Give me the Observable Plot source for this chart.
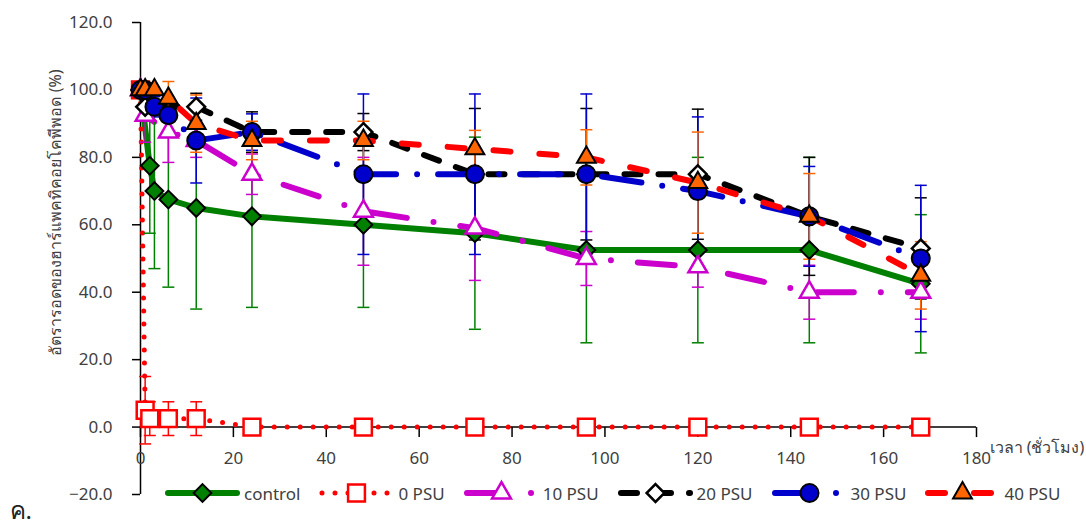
<!DOCTYPE html>
<html>
<head>
<meta charset="utf-8">
<script src="https://cdn.jsdelivr.net/npm/d3@7"></script>
<script src="https://cdn.jsdelivr.net/npm/@observablehq/plot@0.6"></script>
<style>
  html, body { margin: 0; padding: 0; background: #fff; }
  #wrap { position: relative; width: 1086px; height: 530px; font-family: "Noto Sans", "DejaVu Sans", sans-serif; }
  #legend { position: absolute; left: 165px; top: 482px; display: flex; align-items: center; height: 22px; font-size: 17px; color: #404040; }
  .item { display: flex; align-items: center; margin-right: 19px; }
  .item span { margin-left: 4px; white-space: nowrap; }
</style>
</head>
<body>
<div id="wrap"><div id="chart"></div><div id="legend"></div></div>
<script>
// ---------------- data ----------------
const hours = [0, 1, 2, 3, 6, 12, 24, 48, 72, 96, 120, 144, 168];
const seriesNames = ["control", "0 PSU", "10 PSU", "20 PSU", "30 PSU", "40 PSU"];

const controlMean = [100, null, 77.5, 70, 67.5, 65, 62.5, 60, 57.5, 52.5, 52.5, 52.5, 42.5];
const controlSD   = [0,   null, 20,   23, 26,   30, 27,   24.5, 28.5, 27.5, 27.5, 27.5, 20.5];

const psu0Mean = [100, 5,  2.5, null, 2.5, 2.5, 0, 0, 0, 0, 0, 0, 0];
const psu0SD   = [0,   10, 5,   null, 5,   5,   0, 0, 0, 0, 0, 0, 0];

const psu10Mean = [100, 92.5, null, null, 87.5, 85, 75, 64, 59,   50, 47.5, 40, 40];
const psu10SD   = [0,   8,    null, null, 9,    5,  6,  16, 15.5, 8,  6,    8,  8];

const psu20Mean = [100, 95, null, null, null, 95, 87.5, 87.5, 75,   75,   75,   62.5, 53];
const psu20SD   = [0,   3,  null, null, null, 4,  6,    5.5,  19.5, 19.5, 19.3, 17.5, 15];

const psu30Mean = [100, 100, null, 95, 92.5, 85,   87.5, 75,   75,   75,   70, 62.5, 50];
const psu30SD   = [0,   0,   null, 3,  5,    12.6, 5.4,  23.8, 23.8, 23.8, 22, 14.8, 21.7];

const psu40Mean = [100, 100, null, 100, 97.5, 90,  85,  85,  82.5, 80,  72.5, 62.5, 45];
const psu40SD   = [0,   0,   null, 0,   5,    8.5, 5.7, 5.7, 5.5,  8.2, 15,   12.7, 10];

const yTicks = [-20, 0, 20, 40, 60, 80, 100, 120];
const xTicks = [0, 20, 40, 60, 80, 100, 120, 140, 160, 180];
const yTitle = "อัตรารอดของฮาร์แพคทิคอยโคพีพอด (%)";
const xTitle = "เวลา (ชั่วโมง)";
const panelTag = "ค.";

// ---------------- styles ----------------
const styles = {
  "control": {line: "#008000", width: 6, dash: null,          symbol: "diamond2", r: 8, fill: "#008000", mstroke: "#000",    mwidth: 2,   bar: "#008000"},
  "0 PSU":   {line: "#FF0000", width: 5, dash: "0 13",        symbol: "square",   r: 9.5, fill: "#fff",  mstroke: "#FF0000", mwidth: 2.5, bar: "#FF0000"},
  "10 PSU":  {line: "#CC00CC", width: 6, dash: "37 27 0 27",  symbol: "triangle", r: 7, fill: "#fff",    mstroke: "#CC00CC", mwidth: 2.5, bar: "#CC00CC"},
  "20 PSU":  {line: "#000000", width: 6, dash: "16 18",       symbol: "diamond2", r: 8, fill: "#fff",    mstroke: "#000",    mwidth: 2.5, bar: "#000000"},
  "30 PSU":  {line: "#0000CC", width: 6, dash: "40 21 0 21",  symbol: "circle",   r: 9, fill: "#0000CC", mstroke: "#000",    mwidth: 2,   bar: "#0000CC"},
  "40 PSU":  {line: "#FF0000", width: 6, dash: "17 29",       symbol: "triangle", r: 7, fill: "#FF6600", mstroke: "#000",    mwidth: 2,   bar: "#FF6600"}
};

const means = [controlMean, psu0Mean, psu10Mean, psu20Mean, psu30Mean, psu40Mean];
const sds = [controlSD, psu0SD, psu10SD, psu20SD, psu30SD, psu40SD];

const series = seriesNames.map((name, i) => ({
  name,
  rows: hours.map((t, j) => ({t, v: means[i][j], sd: sds[i][j]})).filter(d => d.v != null)
}));

// custom symbols
const capSymbol = {draw(ctx, size) { const w = Math.sqrt(size / Math.PI); ctx.moveTo(-w, 0); ctx.lineTo(w, 0); }};
const tickDown = {draw(ctx, size) { const l = Math.sqrt(size / Math.PI); ctx.moveTo(0, 0); ctx.lineTo(0, l); }};

const lineMarks = series.map(s => {
  const st = styles[s.name];
  return Plot.line(s.rows, {x: "t", y: "v", stroke: st.line, strokeWidth: st.width,
    strokeDasharray: st.dash, strokeLinecap: "round", strokeLinejoin: "round"});
});
const barMarks = series.flatMap(s => {
  const st = styles[s.name];
  const rows = s.rows.filter(d => d.sd > 0);
  return [
    Plot.ruleX(rows, {x: "t", y1: d => d.v - d.sd, y2: d => d.v + d.sd, stroke: st.bar, strokeWidth: 1.5}),
    Plot.dot(rows, {x: "t", y: d => d.v - d.sd, symbol: capSymbol, r: 6, stroke: st.bar, strokeWidth: 1.5}),
    Plot.dot(rows, {x: "t", y: d => d.v + d.sd, symbol: capSymbol, r: 6, stroke: st.bar, strokeWidth: 1.5})
  ];
});
const dotMarks = series.map(s => {
  const st = styles[s.name];
  return Plot.dot(s.rows, {x: "t", y: "v", symbol: st.symbol, r: st.r, fill: st.fill,
    stroke: st.mstroke, strokeWidth: st.mwidth});
});

const chart = Plot.plot({
  width: 1086, height: 530,
  marginLeft: 140, marginRight: 110, marginTop: 22, marginBottom: 36,
  x: {domain: [0, 180], axis: null},
  y: {domain: [-20, 120]},
  style: {fontFamily: '"Noto Sans", "DejaVu Sans", sans-serif', fontSize: "17px", background: "#fff", color: "#404040", overflow: "visible"},
  marks: [
    Plot.axisY({ticks: yTicks, tickFormat: d3.format(".1f"), tickSize: 8, tickPadding: 20, stroke: "#000", strokeWidth: 1.5, fill: "#404040", label: null, fontSize: 17}),
    Plot.ruleX([0], {stroke: "#000", strokeWidth: 1.5}),
    Plot.ruleY([0], {stroke: "#000", strokeWidth: 1.5}),
    Plot.dot(xTicks, {x: d => d, y: 0, symbol: tickDown, r: 10, stroke: "#000", strokeWidth: 1.5}),
    Plot.text(xTicks, {x: d => d, y: 0, dy: 31, text: d => String(d), fill: "#404040", fontSize: 17}),
    Plot.text([xTitle], {x: 180, y: 0, dx: 13, dy: 21, textAnchor: "start", fill: "#404040", fontSize: 16}),
    Plot.text([yTitle], {frameAnchor: "left", rotate: -90, dx: -85, dy: -46, textAnchor: "middle", fill: "#404040", fontSize: 16}),
    Plot.text([panelTag], {frameAnchor: "bottom-left", lineAnchor: "middle", dx: -131, dy: 17, textAnchor: "start", fill: "#222", fontSize: 24}),
    ...lineMarks,
    ...barMarks,
    ...dotMarks
  ]
});
document.getElementById("chart").appendChild(chart);

// ---------------- legend ----------------
const symMap = {diamond2: d3.symbolDiamond2, square: d3.symbolSquare, triangle: d3.symbolTriangle, circle: d3.symbolCircle};
const legend = d3.select("#legend");
seriesNames.forEach(name => {
  const st = styles[name];
  const item = legend.append("div").attr("class", "item");
  const svg = item.append("svg").attr("width", 75).attr("height", 22).style("overflow", "visible");
  svg.append("line").attr("x1", 3).attr("x2", 72).attr("y1", 11).attr("y2", 11)
    .attr("stroke", st.line).attr("stroke-width", st.width)
    .attr("stroke-dasharray", st.dash).attr("stroke-linecap", "round");
  svg.append("path").attr("d", d3.symbol(symMap[st.symbol], Math.PI * st.r * st.r)())
    .attr("transform", "translate(37.5,11)")
    .attr("fill", st.fill).attr("stroke", st.mstroke).attr("stroke-width", st.mwidth);
  item.append("span").text(name);
});
</script>
</body>
</html>
